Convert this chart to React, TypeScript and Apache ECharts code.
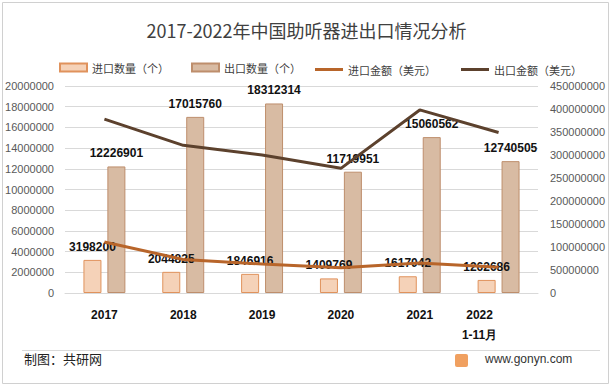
import React, { useEffect, useRef } from "react";
import * as echarts from "echarts";

const categories = ["2017", "2018", "2019", "2020", "2021", "2022\n1-11月"];
const importQty = [3198200, 2044825, 1846916, 1409769, 1617042, 1262686];
const exportQty = [12226901, 17015760, 18312314, 11719951, 15060562, 12740505];
const importAmt = [111000000, 73000000, 63000000, 55000000, 65000000, 56000000];
const exportAmt = [378000000, 321000000, 300000000, 271000000, 398000000, 349000000];

const seriesNames = ["进口数量（个）", "出口数量（个）", "进口金额（美元）", "出口金额（美元）"];

export default function App() {
  const ref = useRef<HTMLDivElement>(null);
  useEffect(() => {
    if (!ref.current) return;
    const chart = echarts.init(ref.current, null, { renderer: "svg" });
    const axisFont = {
      fontFamily: "Liberation Sans, Arial, sans-serif",
      fontSize: 11,
      color: "#595959",
      formatter: (v: number) => String(v),
    };
    const barLabel = {
      show: true,
      position: "top",
      distance: 7,
      fontFamily: "Liberation Sans, Arial, sans-serif",
      fontSize: 12,
      fontWeight: "bold",
      color: "#111",
    };
    const legendText = { fontSize: 11, color: "#404040", fontFamily: "Noto Sans CJK SC, sans-serif" };
    chart.setOption({
      animation: false,
      backgroundColor: "#fff",
      title: {
        text: "2017-2022年中国助听器进出口情况分析",
        left: "center",
        top: 16,
        textStyle: { fontSize: 18, fontWeight: "normal", color: "#404040", fontFamily: "Noto Sans CJK SC, sans-serif" },
      },
      legend: [
        {
          data: [seriesNames[0], seriesNames[1]],
          left: 54,
          top: 57,
          itemGap: 22,
          itemWidth: 27,
          itemHeight: 8,
          icon: "rect",
          textStyle: legendText,
        },
        {
          data: [seriesNames[2], seriesNames[3]],
          left: 310,
          top: 59,
          itemGap: 25,
          itemWidth: 28,
          itemHeight: 3,
          icon: "rect",
          textStyle: legendText,
        },
      ],
      grid: { left: 65, right: 75, top: 86, bottom: 93 },
      xAxis: {
        type: "category",
        data: categories,
        axisTick: { show: false },
        axisLine: { show: true, lineStyle: { color: "#d9d9d9" } },
        axisLabel: {
          margin: 12,
          fontSize: 12,
          fontWeight: "bold",
          color: "#111",
          lineHeight: 20,
          fontFamily: "Liberation Sans, Arial, sans-serif",
          formatter: (v: string) => {
            if (v.indexOf("\n") >= 0) {
              const parts = v.split("\n");
              return `{s|${parts[0]}}\n{s|${parts[1]}}`;
            }
            return v;
          },
          rich: {
            s: {
              fontSize: 12,
              fontWeight: "bold",
              color: "#111",
              lineHeight: 20,
              padding: [0, 38, 0, 0],
              fontFamily: "Liberation Sans, Arial, sans-serif",
            },
          },
        },
      },
      yAxis: [
        {
          type: "value",
          min: 0,
          max: 20000000,
          interval: 2000000,
          axisLabel: { ...axisFont, margin: 11 },
          splitLine: { lineStyle: { color: "#d9d9d9" } },
          axisLine: { show: false },
          axisTick: { show: false },
        },
        {
          type: "value",
          min: 0,
          max: 450000000,
          interval: 50000000,
          axisLabel: { ...axisFont, margin: 12 },
          splitLine: { show: false },
          axisLine: { show: false },
          axisTick: { show: false },
        },
      ],
      series: [
        {
          name: seriesNames[0],
          type: "bar",
          data: importQty,
          barWidth: 18,
          barGap: "33%",
          itemStyle: { color: "#F5D2B8", borderColor: "#E0925C", borderWidth: 1 },
          label: barLabel,
        },
        {
          name: seriesNames[1],
          type: "bar",
          data: exportQty,
          barWidth: 18,
          barGap: "33%",
          itemStyle: { color: "#D8BBA3", borderColor: "#BE8E6C", borderWidth: 1 },
          label: barLabel,
        },
        {
          name: seriesNames[2],
          type: "line",
          yAxisIndex: 1,
          data: importAmt,
          symbol: "none",
          lineStyle: { color: "#B8652A", width: 3 },
          itemStyle: { color: "#B8652A" },
        },
        {
          name: seriesNames[3],
          type: "line",
          yAxisIndex: 1,
          data: exportAmt,
          symbol: "none",
          lineStyle: { color: "#5C412D", width: 3 },
          itemStyle: { color: "#5C412D" },
        },
      ],
      graphic: [
        {
          type: "rect",
          shape: { x: 2.5, y: 2.5, width: 606, height: 381 },
          style: { fill: "none", stroke: "#d0d0d0", lineWidth: 1 },
          silent: true,
        },
        {
          type: "line",
          shape: { x1: 22, y1: 350.5, x2: 600, y2: 350.5 },
          style: { stroke: "#d9d9d9", lineWidth: 1 },
          silent: true,
        },
        {
          type: "text",
          left: 24,
          top: 352,
          style: { text: "制图：共研网", fontSize: 13, fill: "#222", fontFamily: "Noto Sans CJK SC, sans-serif" },
        },
        {
          type: "rect",
          shape: { x: 455, y: 354, width: 13, height: 13, r: 2 },
          style: { fill: "#F0A060" },
          silent: true,
        },
        {
          type: "text",
          left: 485,
          top: 353,
          style: { text: "www.gonyn.com", fontSize: 12, fill: "#333", fontFamily: "Liberation Sans, Arial, sans-serif" },
        },
      ],
    });
    return () => chart.dispose();
  }, []);
  return (
    <div
      ref={ref}
      style={{ position: "fixed", left: 0, top: 0, width: 613, height: 386 }}
    />
  );
}
